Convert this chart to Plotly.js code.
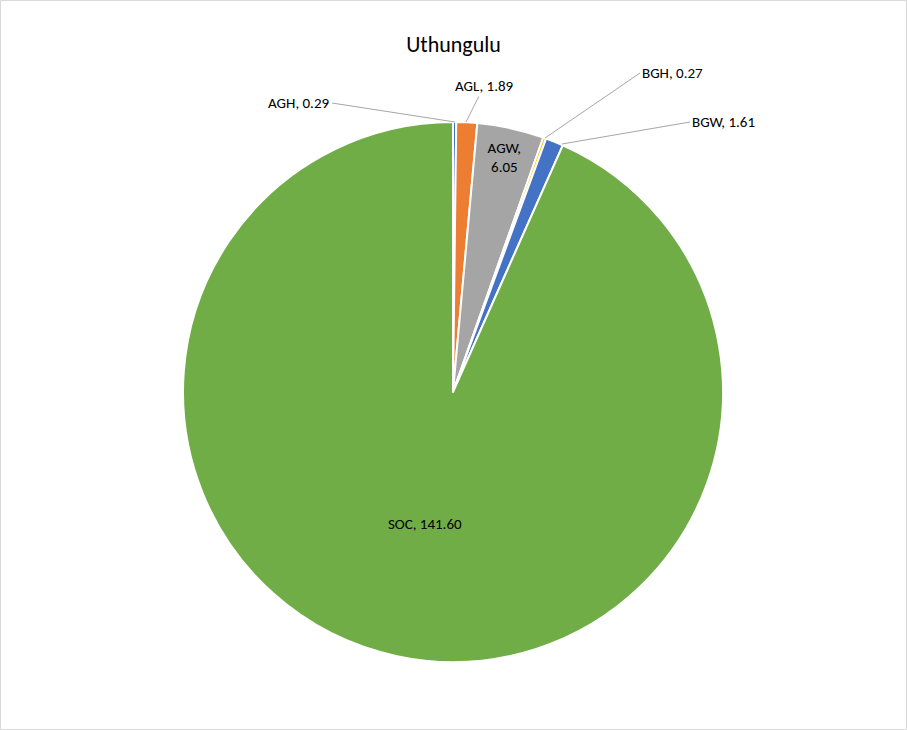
<!DOCTYPE html>
<html><head><meta charset="utf-8">
<script src="https://cdn.plot.ly/plotly-3.0.1.min.js"></script>
<style>body{margin:0}#chart{width:907px;height:730px}</style>
</head><body><div id="chart"></div>
<script>
const categories = ['AGH', 'AGL', 'AGW', 'BGH', 'BGW', 'SOC'];
const values = [0.29, 1.89, 6.05, 0.27, 1.61, 141.60];
const colors = ['#4472C4', '#ED7D31', '#A5A5A5', '#FFC000', '#4472C4', '#70AD47'];
const inside = [false, false, true, false, false, true];

const W = 907, H = 730, M = { t: 122, b: 68, l: 183, r: 184 };
const pw = W - M.l - M.r, ph = H - M.t - M.b;
const px = x => (x - M.l) / pw;
const py = y => (H - M.b - y) / ph;
const font = { family: 'Calibri, Carlito, Liberation Sans, sans-serif', size: 15, color: '#000' };

// label anchor (text end) and slice point for outside labels, in pixels
const callouts = {
  AGH: { tx: 332, ty: 103, sx: 455, sy: 122, anchor: 'right' },
  AGL: { tx: 484, ty: 86, sx: 466, sy: 122, anchor: 'center' },
  BGH: { tx: 640, ty: 73, sx: 545, sy: 138, anchor: 'left' },
  BGW: { tx: 690, ty: 122, sx: 562, sy: 144, anchor: 'left' }
};

const texts = categories.map((c, i) => inside[i]
  ? (c === 'AGW' ? c + ',<br>' + values[i].toFixed(2) : c + ', ' + values[i].toFixed(2)) : '');

const annotations = categories.map((c, i) => {
  if (inside[i]) return null;
  const o = callouts[c];
  return {
    xref: 'paper', yref: 'paper', x: px(o.sx), y: py(o.sy),
    ax: o.tx - o.sx, ay: o.ty - o.sy,
    text: c + ', ' + values[i].toFixed(2), font: font,
    showarrow: true, arrowhead: 0, arrowwidth: 1, arrowcolor: '#a6a6a6',
    xanchor: o.anchor, yanchor: 'middle', standoff: 0, startstandoff: 0
  };
}).filter(Boolean);

Plotly.newPlot('chart', [{
  type: 'pie',
  labels: categories,
  values: values,
  sort: false,
  direction: 'clockwise',
  rotation: 0,
  marker: { colors: colors, line: { color: '#fff', width: 2 } },
  text: texts,
  textinfo: 'text',
  textposition: 'inside',
  insidetextorientation: 'horizontal',
  textfont: font,
  hoverinfo: 'none',
  showlegend: false
}], {
  width: W, height: H,
  margin: M,
  paper_bgcolor: '#fff',
  annotations: annotations,
  title: { text: 'Uthungulu', x: 0.5, y: 0.95, font: { family: font.family, size: 22, color: '#000' } },
  shapes: [{ type: 'rect', xref: 'paper', yref: 'paper',
    x0: px(0.5), x1: px(W - 0.5), y0: py(H - 0.5), y1: py(0.5),
    line: { color: '#d9d9d9', width: 1 } }]
}, { displayModeBar: false });
</script></body></html>
